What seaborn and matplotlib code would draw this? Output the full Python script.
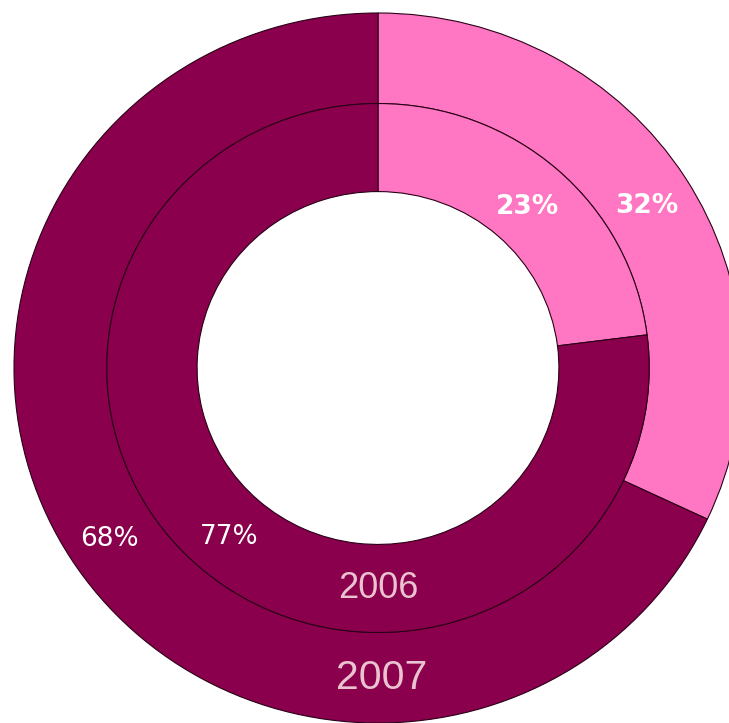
"""
Double donut: share by year (2006 inner ring, 2007 outer ring)
"""

import matplotlib
matplotlib.use('Agg')
import matplotlib.pyplot as plt
import seaborn as sns

# data
years = ['2006', '2007']
share_2006 = [23, 77]
share_2007 = [32, 68]
colors = ['#FF77C3', '#8A004C']

sns.set_theme(style='white')
plt.rcParams['font.family'] = ['DejaVu Sans']

fig = plt.figure(figsize=(7.29, 7.23), dpi=100)
ax = fig.add_axes([0, 0, 1, 1])

r_outer = 1.0
r_mid = 0.745
r_hole = 0.497
edge = dict(edgecolor='#2a0018', linewidth=0.8)

# outer ring - 2007
w_out, t_out, a_out = ax.pie(share_2007, radius=r_outer, colors=colors,
                             startangle=90, counterclock=False,
                             wedgeprops=dict(width=r_outer - r_mid, **edge),
                             autopct=lambda p: f'{p:.0f}%', pctdistance=0.874)

# inner ring - 2006
w_in, t_in, a_in = ax.pie(share_2006, radius=r_mid, colors=colors,
                          startangle=90, counterclock=False,
                          wedgeprops=dict(width=r_mid - r_hole, **edge),
                          autopct=lambda p: f'{p:.0f}%', pctdistance=0.832)

for i, t in enumerate(a_out + a_in):
    t.set_color('white')
    t.set_fontsize(19)
    t.set_fontweight('bold' if i % 2 == 0 else 'normal')
    x, y = t.get_position()
    t.set_position((x, y - 0.012))

# year labels at the bottom of each ring
ax.text(0, -(r_mid + r_hole) / 2, years[0], ha='center', va='center',
        fontsize=26, color='#EBC3D0', family='Liberation Sans')
ax.text(0.01, -(r_outer + r_mid) / 2, years[1], ha='center', va='center',
        fontsize=29.5, color='#EBC3D0', family='Liberation Sans')

# picture is slightly squashed vertically and cut off on the right
ax.set_aspect('auto')
ax.set_xlim(-378 / 364, (729 - 378) / 364)
ax.set_ylim(-(723 - 368) / 355, 368 / 355)
ax.axis('off')

fig.savefig('out.png', dpi=100, facecolor='white')
